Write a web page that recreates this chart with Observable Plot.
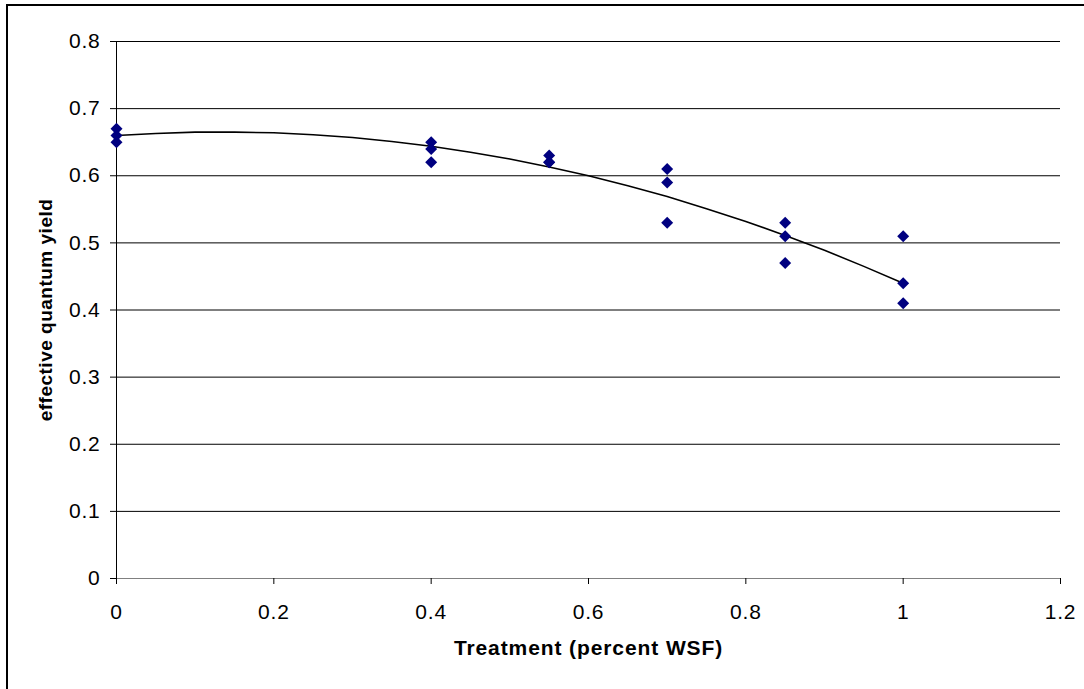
<!DOCTYPE html>
<html>
<head>
<meta charset="utf-8">
<script src="https://cdn.jsdelivr.net/npm/d3@7"></script>
<script src="https://cdn.jsdelivr.net/npm/@observablehq/plot@0.6"></script>
<style>
  html, body { margin: 0; padding: 0; background: #fff; overflow: hidden; }
  #wrap { position: relative; width: 1084px; height: 689px; overflow: hidden; }
  #border { position: absolute; left: 6px; top: 4px; width: 1200px; height: 800px;
            border-left: 2px solid #000; border-top: 2px solid #000; pointer-events: none; }
  svg { font-family: "Liberation Sans", Arial, sans-serif; }
  svg g[aria-label="y-axis tick label"] text,
  svg g[aria-label="x-axis tick label"] text { letter-spacing: 0.8px; }
</style>
</head>
<body>
<div id="wrap"><div id="border"></div></div>
<script>
// Observations: treatment (fraction WSF) and effective quantum yield
const treatment = [0, 0, 0, 0.4, 0.4, 0.4, 0.55, 0.55, 0.55, 0.7, 0.7, 0.7, 0.85, 0.85, 0.85, 1, 1, 1];
const yieldValues = [0.67, 0.66, 0.65, 0.65, 0.64, 0.62, 0.63, 0.62, 0.62, 0.61, 0.59, 0.53, 0.53, 0.51, 0.47, 0.51, 0.44, 0.41];

// Trend line
const trendX = [0, 0.05, 0.1, 0.15, 0.2, 0.25, 0.3, 0.35, 0.4, 0.45, 0.5, 0.55, 0.6, 0.65, 0.7, 0.75, 0.8, 0.85, 0.9, 0.95, 1];
const trendY = [0.660, 0.663, 0.665, 0.665, 0.664, 0.661, 0.657, 0.651, 0.644, 0.635, 0.625, 0.613, 0.600, 0.585, 0.569, 0.551, 0.532, 0.511, 0.489, 0.465, 0.440];

// Tick values
const xTicks = [0, 0.2, 0.4, 0.6, 0.8, 1, 1.2];
const yTicks = [0, 0.1, 0.2, 0.3, 0.4, 0.5, 0.6, 0.7, 0.8];

const points = treatment.map((t, i) => ({x: t, y: yieldValues[i]}));
const trend = trendX.map((t, i) => ({x: t, y: trendY[i]}));
const fmt = d => String(+d.toFixed(1));

const chart = Plot.plot({
  width: 1084,
  height: 689,
  marginLeft: 116,
  marginRight: 24,
  marginTop: 41,
  marginBottom: 111,
  style: {background: "transparent", fontSize: "21px", fontFamily: "'Liberation Sans', Arial, sans-serif", color: "#000"},
  x: {domain: [0, 1.2]},
  y: {domain: [0, 0.8]},
  marks: [
    Plot.ruleY(yTicks.filter(d => d > 0), {stroke: "#000", strokeWidth: 1}),
    Plot.ruleY([0], {stroke: "#808080", strokeWidth: 1.2}),
    Plot.ruleX([0], {stroke: "#000", strokeWidth: 1}),
    Plot.axisY({ticks: yTicks, tickFormat: fmt, tickSize: 6, tickPadding: 10, label: null, stroke: "#000", fill: "#000", fontSize: 21}),
    Plot.axisX({ticks: xTicks, tickFormat: fmt, tickSize: 6, tickPadding: 20, label: null, stroke: "#000", fill: "#000", fontSize: 21}),
    Plot.line(trend, {x: "x", y: "y", stroke: "#000", strokeWidth: 1.6}),
    Plot.dot(points, {x: "x", y: "y", symbol: "diamond2", r: 5.4, fill: "#000080", stroke: "none"}),
    Plot.text(["effective quantum yield"], {frameAnchor: "left", textAnchor: "middle", dx: -71, rotate: -90, fontWeight: "bold", fontSize: 19, fill: "#000"}),
    Plot.text(["Treatment (percent WSF)"], {frameAnchor: "bottom", textAnchor: "middle", dy: 76, fontWeight: "bold", fontSize: 21, fill: "#000"})
  ]
});
const labels = chart.querySelectorAll('g[aria-label="text"] text');
labels.forEach((t, i) => t.style.letterSpacing = (t.textContent.startsWith("effective") ? "0.5px" : "0.9px"));
document.getElementById("wrap").prepend(chart);
</script>
</body>
</html>
